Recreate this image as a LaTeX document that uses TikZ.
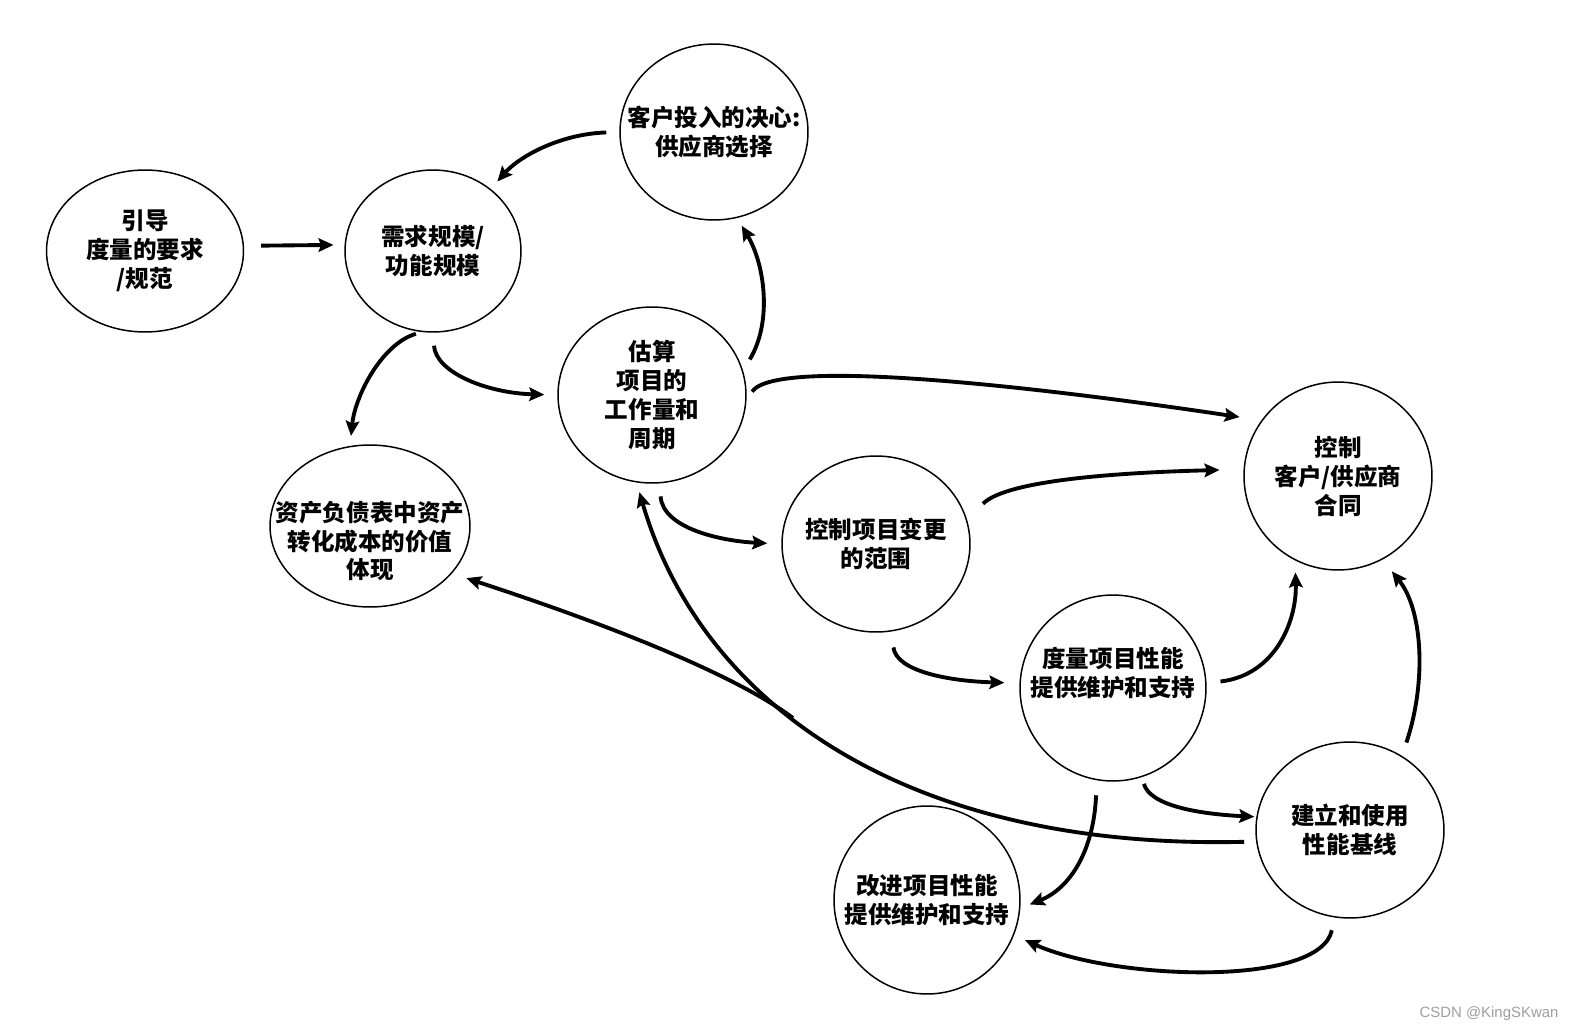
\documentclass[tikz,border=0pt]{standalone}
\usepackage{fontspec}
\usepackage{xcolor}
\usepackage{tikz}
\usetikzlibrary{shapes.geometric,arrows.meta}
\newfontfamily\cjk{Noto Sans CJK SC}
\newfontfamily\wmfont{Liberation Sans}

\begin{document}
\begin{tikzpicture}[x=0.02cm,y=-0.02cm,
	bub/.style={draw,ellipse,line width=0.85pt,inner sep=0pt},
	txt/.style={align=center,inner sep=0pt,font=\cjk\bfseries\fontsize{13.4}{16.5}\selectfont},
	flow/.style={line width=2.2pt,-{Stealth[length=0.3cm,width=0.27cm,inset=0.05cm]},shorten <=0.24cm,shorten >=0.22cm},
	wm/.style={inner sep=0pt,text=black!38,font=\wmfont\fontsize{8.5}{10}\selectfont}]
\useasboundingbox (0,0) rectangle (1572,1035);
% bubbles
\node[bub,minimum width=3.94cm,minimum height=3.24cm,label={[txt]center:{引导\\度量的要求\\/规范}}] (guide) at (145,251) {};
\node[bub,minimum width=3.52cm,minimum height=3.24cm,label={[txt]center:{需求规模/\\功能规模}}] (size) at (433,251) {};
\node[bub,minimum width=3.76cm,minimum height=3.52cm,label={[txt]center:{客户投入的决心:\\供应商选择}}] (commit) at (714,132) {};
\node[bub,minimum width=3.76cm,minimum height=3.52cm,label={[txt]center:{估算\\项目的\\工作量和\\周期}}] (estimate) at (652,395) {};
\node[bub,minimum width=4cm,minimum height=3.24cm,label={[txt,yshift=-0.3cm]center:{资产负债表中资产\\转化成本的价值\\体现}}] (asset) at (370,526) {};
\node[bub,minimum width=3.76cm,minimum height=3.52cm,label={[txt]center:{控制项目变更\\的范围}}] (change) at (876,544) {};
\node[bub,minimum width=3.76cm,minimum height=3.76cm,label={[txt]center:{控制\\客户/供应商\\合同}}] (contract) at (1338,476) {};
\node[bub,minimum width=3.72cm,minimum height=3.72cm,label={[txt,yshift=0.3cm]center:{度量项目性能\\提供维护和支持}}] (measure) at (1113,688) {};
\node[bub,minimum width=3.76cm,minimum height=3.52cm,label={[txt]center:{建立和使用\\性能基线}}] (baseline) at (1350,830) {};
\node[bub,minimum width=3.72cm,minimum height=3.76cm,label={[txt]center:{改进项目性能\\提供维护和支持}}] (improve) at (927,900) {};
% arrows
\draw[flow,shorten <=0.34cm] (guide.3) -- (size.176);
\draw[flow,shorten <=0.26cm,shorten >=0.2cm] (commit.180) .. controls +(-60,2) and +(28,-32) .. (size.47);
\draw[flow,shorten <=0.26cm,shorten >=0.18cm] (estimate.15) .. controls +(30,-50) and +(27,45) .. (commit.-75);
\draw[flow,shorten <=0.12cm,shorten >=0.2cm] (size.-98) .. controls +(-40,12) and +(5,-50) .. (asset.104);
\draw[flow,shorten <=0.26cm,shorten >=0.26cm] (size.-90) .. controls +(3,40) and +(-70,-2) .. (estimate.180);
\draw[flow,shorten <=0.2cm,shorten >=0.44cm] (estimate.-3) .. controls +(30,-45) and +(-200,-30) .. (contract.144);
\draw[flow,shorten <=0.26cm,shorten >=0.28cm] (estimate.-85) .. controls +(3,45) and +(-60,-3) .. (change.180);
\draw[flow,shorten <=0.45cm,shorten >=0.48cm] (change.15) .. controls +(40,-40) and +(-120,3) .. (contract.176);
\draw[flow,shorten <=0.32cm,shorten >=0.3cm] (change.-80) .. controls +(5,40) and +(-70,-2) .. (measure.177);
\draw[flow,shorten <=0.28cm,shorten >=0.24cm] (measure.3) .. controls +(69,-8) and +(2,60) .. (contract.-117);
\draw[flow,shorten <=0.28cm,shorten >=0.3cm] (baseline.55) .. controls +(25,-75) and +(40,50) .. (contract.-62);
\draw[flow,shorten <=0.14cm,shorten >=0.04cm] (measure.-72) .. controls +(8,28) and +(-60,-3) .. (baseline.172);
\draw[flow,shorten <=0.3cm,shorten >=0.2cm] (measure.-100) .. controls +(-3,70) and +(50,-20) .. (improve.-5);
\draw[flow,shorten <=0.26cm,shorten >=0.24cm] (baseline.-100) .. controls +(-15,70) and +(100,45) .. (improve.-22);
\draw[flow,shorten >=0.2cm] (baseline.187) .. controls (900,850) and (700,700) .. (estimate.260);
\coordinate (split) at (793,718);
\draw[flow,shorten <=0pt,shorten >=0.3cm] (split) .. controls +(-80,-60) and +(60,20) .. (asset.-30);
%
\node[wm] (credit) at (1489,1014) {CSDN @KingSKwan};
\end{tikzpicture}
\end{document}
